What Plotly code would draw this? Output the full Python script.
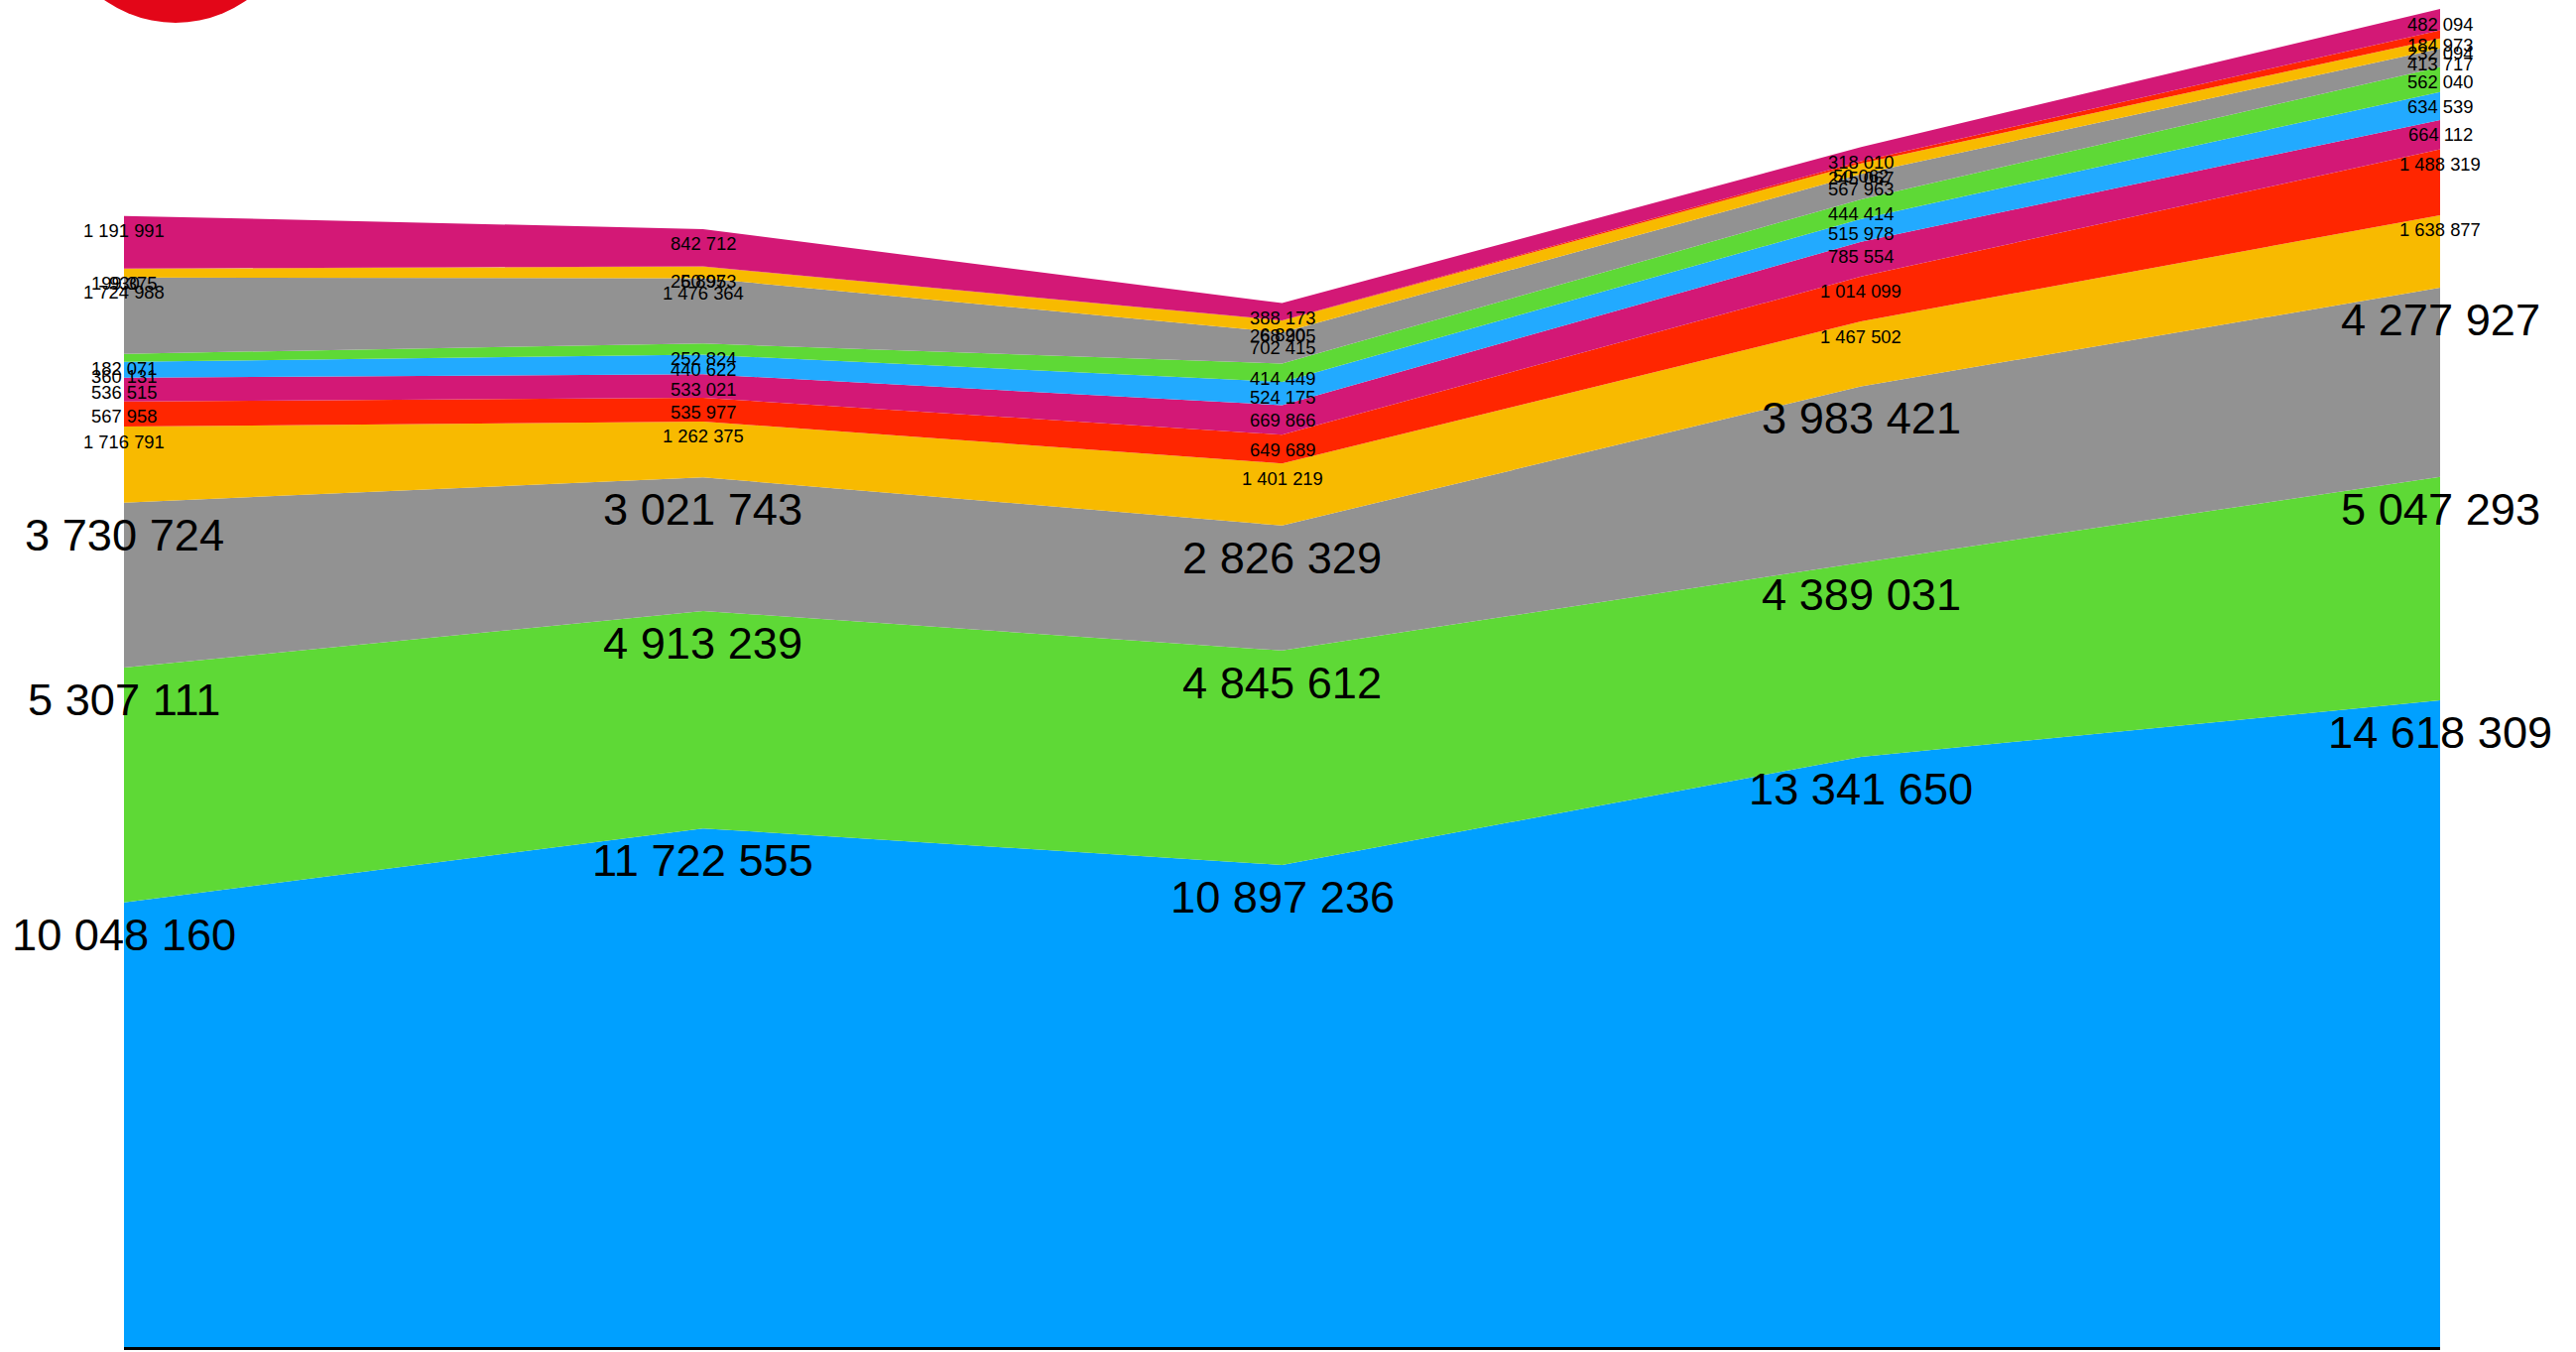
import numpy as np
import plotly.graph_objects as go

categories = ["P1", "P2", "P3", "P4", "P5"]

s01 = [10048160, 11722555, 10897236, 13341650, 14618309]
s02 = [5307111, 4913239, 4845612, 4389031, 5047293]
s03 = [3730724, 3021743, 2826329, 3983421, 4277927]
s04 = [1716791, 1262375, 1401219, 1467502, 1638877]
s05 = [567958, 535977, 649689, 1014099, 1488319]
s06 = [536515, 533021, 669866, 785554, 664112]
s07 = [360131, 440622, 524175, 515978, 634539]
s08 = [182071, 252824, 414449, 444414, 562040]
s09 = [1724988, 1476364, 702415, 567963, 413717]
s10 = [199375, 260953, 268905, 245067, 232094]
s11 = [930, 5897, 6820, 50062, 184973]
s12 = [1191991, 842712, 388173, 318010, 482094]

series = [s01, s02, s03, s04, s05, s06, s07, s08, s09, s10, s11, s12]
colors = ["#00a0ff", "#5ed936", "#929292", "#f8ba00", "#ff2600", "#d31876",
          "#22aaff", "#5ed936", "#929292", "#f8ba00", "#ff2600", "#d31876"]


def fmt(v):
    return f"{v:,}".replace(",", " ")


fig = go.Figure()
for vals, col in zip(series, colors):
    fig.add_trace(go.Scatter(
        x=categories, y=vals, stackgroup="one", mode="lines",
        line=dict(width=0, color=col), fillcolor=col,
        showlegend=False, hoverinfo="skip",
    ))

tops = np.cumsum(np.array(series), axis=0)
annotations = []
for vals, top in zip(series, tops):
    for cat, v, t in zip(categories, vals, top):
        big = v >= 2000000
        annotations.append(dict(
            x=cat, y=float(t), xref="x", yref="y", text=fmt(v), showarrow=False,
            xanchor="center", yanchor="middle", yshift=-32.5 if big else -15,
            font=dict(family="Liberation Sans", color="black", size=45.2 if big else 18.4),
        ))

fig.update_layout(
    width=2597, height=1363, paper_bgcolor="white", plot_bgcolor="white",
    margin=dict(l=125, r=137, t=9, b=5), showlegend=False,
    xaxis=dict(type="category", categoryorder="array", categoryarray=categories,
               range=[0, 4], showgrid=False, zeroline=False,
               showticklabels=False, ticks="", showline=True,
               linecolor="black", linewidth=2.5),
    yaxis=dict(range=[0, float(tops[-1].max())], showgrid=False, zeroline=False,
               showticklabels=False, ticks="", showline=False),
    annotations=annotations,
    shapes=[dict(type="circle", xref="paper", yref="paper",
                 xsizemode="pixel", ysizemode="pixel",
                 xanchor=(177 - 125) / 2335, yanchor=1 + 110 / 1349,
                 x0=-124, x1=124, y0=-124, y1=124,
                 fillcolor="#e30618", line=dict(width=0), layer="above")],
)
fig.write_html("out.html", config={"displayModeBar": False},
               post_script="document.body.style.margin='0';")
